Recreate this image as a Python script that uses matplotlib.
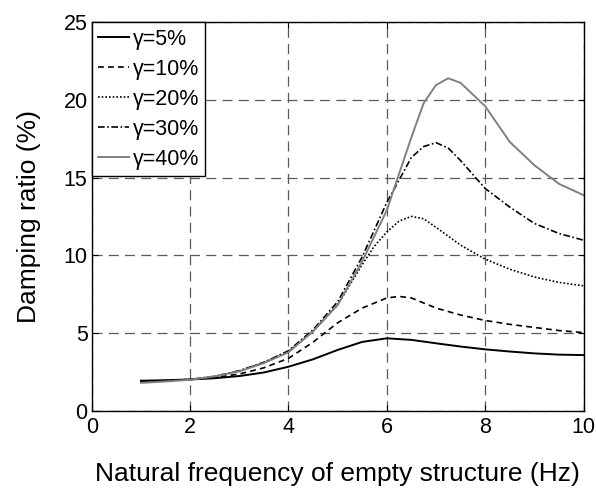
import matplotlib

matplotlib.use("Agg")

import matplotlib.pyplot as plt

plt.rcParams["font.family"] = ["Liberation Sans", "DejaVu Sans"]

# damping ratio (%) vs natural frequency of the empty structure (Hz)
freq_5 = [1, 1.5, 2, 2.5, 3, 3.5, 4, 4.5, 5, 5.5, 6, 6.5, 7, 7.5, 8, 8.5, 9, 9.5, 10]
zeta_5 = [1.92, 1.95, 2.0, 2.08, 2.22, 2.45, 2.82, 3.3, 3.9, 4.42, 4.65, 4.55,
          4.33, 4.12, 3.94, 3.8, 3.68, 3.6, 3.57]

freq_10 = [1, 1.5, 2, 2.5, 3, 3.5, 4, 4.5, 5, 5.5, 6, 6.25, 6.5, 7, 7.5, 8, 8.5, 9, 9.5, 10]
zeta_10 = [1.88, 1.93, 2.0, 2.12, 2.35, 2.75, 3.36, 4.4, 5.65, 6.6, 7.25, 7.35, 7.25,
           6.6, 6.15, 5.8, 5.55, 5.35, 5.15, 5.02]

freq_20 = [1, 1.5, 2, 2.5, 3, 3.5, 4, 4.5, 5, 5.5, 5.75, 6, 6.25, 6.5, 6.75, 7, 7.5,
           8, 8.5, 9, 9.5, 10]
zeta_20 = [1.85, 1.92, 2.0, 2.2, 2.55, 3.1, 3.8, 5.1, 6.8, 9.4, 10.6, 11.5, 12.2,
           12.5, 12.35, 11.8, 10.65, 9.75, 9.1, 8.6, 8.25, 8.03]

freq_30 = [1, 1.5, 2, 2.5, 3, 3.5, 4, 4.5, 5, 5.5, 6, 6.5, 6.75, 7, 7.25, 7.5, 8,
           8.5, 9, 9.5, 10]
zeta_30 = [1.85, 1.9, 2.0, 2.2, 2.56, 3.1, 3.85, 5.2, 7.0, 9.9, 13.4, 16.3, 17.0,
           17.25, 16.9, 16.1, 14.3, 13.1, 12.05, 11.4, 10.97]

freq_40 = [1, 1.5, 2, 2.5, 3, 3.5, 4, 4.5, 5, 5.5, 6, 6.5, 6.75, 7, 7.25, 7.5, 8,
           8.5, 9, 9.5, 10]
zeta_40 = [1.78, 1.87, 1.98, 2.2, 2.52, 3.05, 3.75, 5.1, 6.8, 9.6, 12.9, 17.6, 19.8,
           20.96, 21.4, 21.1, 19.6, 17.3, 15.8, 14.6, 13.87]

labels = ["γ=5%", "γ=10%", "γ=20%", "γ=30%", "γ=40%"]

fig = plt.figure(figsize=(5.96, 4.90), dpi=100)
ax = fig.add_axes([0.1539, 0.1622, 0.8252, 0.7922])

ax.plot(freq_5, zeta_5, color="black", linestyle="-", linewidth=1.4, label=labels[0])
ax.plot(freq_10, zeta_10, color="black", linestyle=(0, (3.5, 2.5)), linewidth=1.2, label=labels[1])
ax.plot(freq_20, zeta_20, color="black", linestyle=(0, (1, 1.2)), linewidth=1.2, label=labels[2])
ax.plot(freq_30, zeta_30, color="black", linestyle=(0, (4, 1.5, 1, 1.5)), linewidth=1.2, label=labels[3])
ax.plot(freq_40, zeta_40, color="#808080", linestyle="-", linewidth=1.4, label=labels[4])

ax.set_xlim(0, 10)
ax.set_ylim(0, 25)
ax.set_xticks(range(0, 11, 2))
ax.set_yticks(range(0, 26, 5))
ax.grid(True, color="#5a5a5a", linestyle=(0, (8, 5)), linewidth=0.9)
ax.set_axisbelow(True)
ax.tick_params(direction="in", top=True, right=True, length=4, labelsize=15.5, width=0.8)
ax.tick_params(axis="x", pad=5)
ax.tick_params(axis="y", pad=3)
for spine in ax.spines.values():
    spine.set_linewidth(1.0)

ax.set_xlabel("Natural frequency of empty structure (Hz)", fontsize=19, labelpad=17)
ax.set_ylabel("Damping ratio (%)", fontsize=19, labelpad=16)

leg = ax.legend(loc="upper left", fontsize=15.5, frameon=True, fancybox=False,
                borderaxespad=0.0, borderpad=0.3, handlelength=1.45, handletextpad=0.15,
                labelspacing=0.42)
leg.get_frame().set_edgecolor("black")
leg.get_frame().set_linewidth(1.0)
leg.get_frame().set_alpha(1.0)

fig.savefig("out.png", dpi=100)
